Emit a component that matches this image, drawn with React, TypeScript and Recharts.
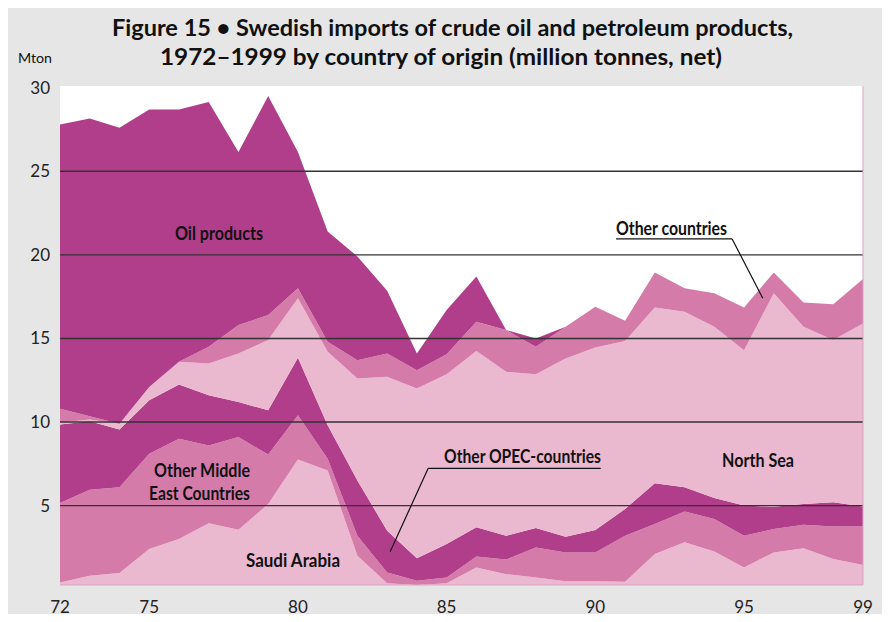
import React from 'react';
import { Area, AreaChart, CartesianGrid, ReferenceLine, XAxis, YAxis } from 'recharts';

// years 1972..1999 (two-digit labels as on the axis)
const years = [72, 73, 74, 75, 76, 77, 78, 79, 80, 81, 82, 83, 84, 85, 86, 87, 88, 89, 90, 91, 92, 93, 94, 95, 96, 97, 98, 99];

// million tonnes, stacked bottom -> top
const saudiArabia = [0.4, 0.8, 0.97, 2.4, 3.0, 3.95, 3.55, 5.1, 7.75, 7.1, 2.0, 0.35, 0.25, 0.35, 1.3, 0.9, 0.7, 0.47, 0.47, 0.45, 2.1, 2.8, 2.25, 1.3, 2.2, 2.45, 1.8, 1.45];
const otherMiddleEast = [4.75, 5.15, 5.13, 5.7, 6.0, 4.65, 5.55, 2.95, 2.65, 0.7, 1.2, 0.65, 0.25, 0.35, 0.65, 0.87, 1.8, 1.73, 1.73, 2.75, 1.8, 1.85, 1.95, 1.9, 1.4, 1.4, 1.95, 2.3];
const otherOpec = [4.7, 4.1, 3.45, 3.2, 3.25, 3.0, 2.1, 2.65, 3.45, 2.0, 3.3, 2.5, 1.35, 2.0, 1.75, 1.43, 1.16, 0.94, 1.34, 1.6, 2.43, 1.45, 1.25, 1.8, 1.33, 1.25, 1.45, 1.2];
const northSea = [0.1, 0.1, 0.35, 0.8, 1.35, 1.9, 2.9, 4.2, 3.55, 4.4, 6.1, 9.2, 10.15, 10.15, 10.55, 9.8, 9.19, 10.66, 10.91, 10.05, 10.52, 10.5, 10.25, 9.3, 12.77, 10.6, 9.7, 10.95];
const otherCountries = [0.85, 0.2, 0, 0, 0, 1.0, 1.7, 1.5, 0.6, 0.6, 1.1, 1.4, 1.1, 1.2, 1.75, 2.5, 1.65, 1.9, 2.45, 1.2, 2.1, 1.4, 2.0, 2.55, 1.25, 1.45, 2.15, 2.65];
const oilProducts = [17.0, 17.8, 17.7, 16.6, 15.1, 14.65, 10.35, 13.1, 8.15, 6.6, 6.2, 3.75, 1.0, 2.65, 2.7, 0, 0.5, 0, 0, 0, 0, 0, 0, 0, 0, 0, 0, 0];

const xTicks = [72, 75, 80, 85, 90, 95, 99];
const yTicks = [5, 10, 15, 20, 25, 30];
const gridValues = [5, 10, 15, 20, 25];

const DARK = '#b03e8a';
const MEDIUM = '#d57ba9';
const LIGHT = '#eab8cf';
const FONT = 'Lato, "Open Sans", sans-serif';

const data = years.map((year, i) => ({
  year,
  saudi: saudiArabia[i],
  middleEast: otherMiddleEast[i],
  opec: otherOpec[i],
  northSea: northSea[i],
  other: otherCountries[i],
  products: oilProducts[i],
}));

const series = [
  { key: 'saudi', name: 'Saudi Arabia', color: LIGHT },
  { key: 'middleEast', name: 'Other Middle East Countries', color: MEDIUM },
  { key: 'opec', name: 'Other OPEC-countries', color: DARK },
  { key: 'northSea', name: 'North Sea', color: LIGHT },
  { key: 'other', name: 'Other countries', color: MEDIUM },
  { key: 'products', name: 'Oil products', color: DARK },
];

// annotation text: left x, center y, width
const labels = [
  { text: 'Oil products', x: 175, y: 233, w: 88, size: 19 },
  { text: 'Other countries', x: 616, y: 228, w: 111, size: 19 },
  { text: 'Other Middle', x: 154, y: 470, w: 96, size: 19 },
  { text: 'East Countries', x: 149, y: 493, w: 101, size: 19 },
  { text: 'Saudi Arabia', x: 246, y: 560, w: 94, size: 19 },
  { text: 'Other OPEC-countries', x: 444, y: 456, w: 157, size: 19 },
  { text: 'North Sea', x: 722, y: 460, w: 72, size: 19 },
];

function Text({ text, x, y, w, size, weight = 700 }: { text: string; x: number; y: number; w: number; size: number; weight?: number }) {
  return (
    <text
      x={x}
      y={y + size * 0.36}
      fontSize={size}
      fontWeight={weight}
      fontFamily={FONT}
      fill="#111"
      textLength={w}
      lengthAdjust="spacingAndGlyphs"
    >
      {text}
    </text>
  );
}

export default function App() {
  return (
    <div style={{ position: 'relative', width: 890, height: 622, margin: -8, background: '#e6e6e6', overflow: 'hidden' }}>
      <AreaChart width={890} height={622} data={data} margin={{ top: 86, right: 27, bottom: 0, left: 0 }}>
        <CartesianGrid horizontal={false} vertical={false} fill="#ffffff" />
        <XAxis
          dataKey="year"
          type="number"
          domain={[72, 99]}
          ticks={xTicks}
          height={37}
          tickSize={0}
          tickMargin={16}
          axisLine={{ stroke: '#dba3c3' }}
          tick={{ fill: '#222', fontSize: 17, fontFamily: FONT }}
        />
        <YAxis
          type="number"
          domain={[0.25, 30.1]}
          allowDataOverflow
          ticks={yTicks}
          width={60}
          tickSize={0}
          tickMargin={10}
          axisLine={false}
          tick={{ fill: '#222', fontSize: 17, fontFamily: FONT }}
        />
        {series.map((s) => (
          <Area
            key={s.key}
            dataKey={s.key}
            name={s.name}
            stackId="imports"
            type="linear"
            stroke="none"
            fill={s.color}
            fillOpacity={1}
            dot={false}
            activeDot={false}
            isAnimationActive={false}
          />
        ))}
        {gridValues.map((v) => (
          <ReferenceLine key={v} y={v} stroke="#333" strokeWidth={1.4} />
        ))}
        <ReferenceLine x={99} stroke="#dba3c3" />
        <ReferenceLine segment={[{ x: 90.7, y: 20.95 }, { x: 94.6, y: 20.95 }]} stroke="#111" strokeWidth={1.2} />
        <ReferenceLine segment={[{ x: 94.6, y: 20.95 }, { x: 95.63, y: 17.4 }]} stroke="#111" strokeWidth={1.2} />
        <ReferenceLine segment={[{ x: 84.38, y: 7.23 }, { x: 90.18, y: 7.23 }]} stroke="#111" strokeWidth={1.2} />
        <ReferenceLine segment={[{ x: 84.38, y: 7.23 }, { x: 83.1, y: 2.24 }]} stroke="#111" strokeWidth={1.2} />
      </AreaChart>
      <svg width={890} height={622} style={{ position: 'absolute', left: 0, top: 0, pointerEvents: 'none' }}>
        <Text text="Figure 15 • Swedish imports of crude oil and petroleum products," x={112} y={28} w={681} size={23} />
        <Text text="1972–1999 by country of origin (million tonnes, net)" x={160} y={57} w={562} size={23} />
        <Text text="Mton" x={18} y={58} w={34} size={14} weight={400} />
        {labels.map((l) => (
          <Text key={l.text} {...l} />
        ))}
      </svg>
    </div>
  );
}
